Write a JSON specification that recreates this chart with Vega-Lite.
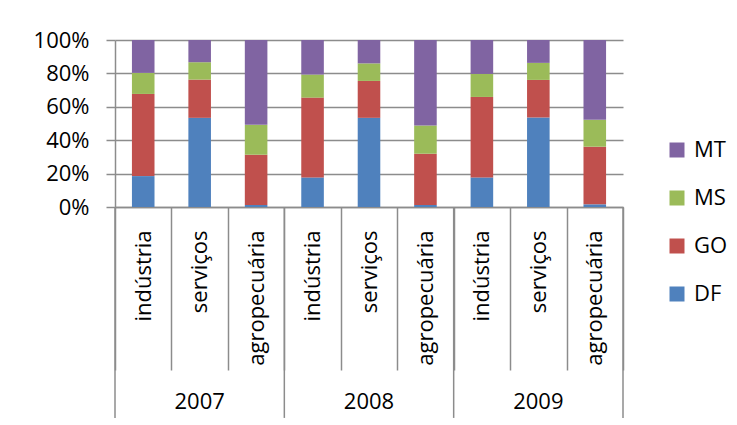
{
  "$schema": "https://vega.github.io/schema/vega-lite/v6.json",
  "width": 508,
  "height": 167,
  "autosize": "none",
  "padding": {"left": 115, "top": 40, "right": 114, "bottom": 218},
  "background": "white",
  "config": {
    "font": "Open Sans",
    "view": {"stroke": null},
    "axis": {"labelColor": "black", "domainColor": "#8c8c8c", "tickColor": "#8c8c8c", "gridColor": "#8c8c8c", "domainWidth": 1.5, "tickWidth": 1.5, "gridWidth": 1.5}
  },
  "datasets": {
    "shares": [
      {"cat": "2007|indústria", "year": "2007", "sector": "indústria", "estado": "DF", "valor": 18.5},
      {"cat": "2007|indústria", "year": "2007", "sector": "indústria", "estado": "GO", "valor": 49.2},
      {"cat": "2007|indústria", "year": "2007", "sector": "indústria", "estado": "MS", "valor": 12.6},
      {"cat": "2007|indústria", "year": "2007", "sector": "indústria", "estado": "MT", "valor": 19.7},
      {"cat": "2007|serviços", "year": "2007", "sector": "serviços", "estado": "DF", "valor": 53.4},
      {"cat": "2007|serviços", "year": "2007", "sector": "serviços", "estado": "GO", "valor": 22.9},
      {"cat": "2007|serviços", "year": "2007", "sector": "serviços", "estado": "MS", "valor": 10.4},
      {"cat": "2007|serviços", "year": "2007", "sector": "serviços", "estado": "MT", "valor": 13.3},
      {"cat": "2007|agropecuária", "year": "2007", "sector": "agropecuária", "estado": "DF", "valor": 1.2},
      {"cat": "2007|agropecuária", "year": "2007", "sector": "agropecuária", "estado": "GO", "valor": 30.1},
      {"cat": "2007|agropecuária", "year": "2007", "sector": "agropecuária", "estado": "MS", "valor": 17.9},
      {"cat": "2007|agropecuária", "year": "2007", "sector": "agropecuária", "estado": "MT", "valor": 50.8},
      {"cat": "2008|indústria", "year": "2008", "sector": "indústria", "estado": "DF", "valor": 17.7},
      {"cat": "2008|indústria", "year": "2008", "sector": "indústria", "estado": "GO", "valor": 47.8},
      {"cat": "2008|indústria", "year": "2008", "sector": "indústria", "estado": "MS", "valor": 13.8},
      {"cat": "2008|indústria", "year": "2008", "sector": "indústria", "estado": "MT", "valor": 20.7},
      {"cat": "2008|serviços", "year": "2008", "sector": "serviços", "estado": "DF", "valor": 53.4},
      {"cat": "2008|serviços", "year": "2008", "sector": "serviços", "estado": "GO", "valor": 22.1},
      {"cat": "2008|serviços", "year": "2008", "sector": "serviços", "estado": "MS", "valor": 10.5},
      {"cat": "2008|serviços", "year": "2008", "sector": "serviços", "estado": "MT", "valor": 14.0},
      {"cat": "2008|agropecuária", "year": "2008", "sector": "agropecuária", "estado": "DF", "valor": 1.2},
      {"cat": "2008|agropecuária", "year": "2008", "sector": "agropecuária", "estado": "GO", "valor": 30.7},
      {"cat": "2008|agropecuária", "year": "2008", "sector": "agropecuária", "estado": "MS", "valor": 16.9},
      {"cat": "2008|agropecuária", "year": "2008", "sector": "agropecuária", "estado": "MT", "valor": 51.2},
      {"cat": "2009|indústria", "year": "2009", "sector": "indústria", "estado": "DF", "valor": 17.7},
      {"cat": "2009|indústria", "year": "2009", "sector": "indústria", "estado": "GO", "valor": 48.2},
      {"cat": "2009|indústria", "year": "2009", "sector": "indústria", "estado": "MS", "valor": 13.8},
      {"cat": "2009|indústria", "year": "2009", "sector": "indústria", "estado": "MT", "valor": 20.3},
      {"cat": "2009|serviços", "year": "2009", "sector": "serviços", "estado": "DF", "valor": 53.6},
      {"cat": "2009|serviços", "year": "2009", "sector": "serviços", "estado": "GO", "valor": 22.5},
      {"cat": "2009|serviços", "year": "2009", "sector": "serviços", "estado": "MS", "valor": 10.2},
      {"cat": "2009|serviços", "year": "2009", "sector": "serviços", "estado": "MT", "valor": 13.7},
      {"cat": "2009|agropecuária", "year": "2009", "sector": "agropecuária", "estado": "DF", "valor": 1.6},
      {"cat": "2009|agropecuária", "year": "2009", "sector": "agropecuária", "estado": "GO", "valor": 34.5},
      {"cat": "2009|agropecuária", "year": "2009", "sector": "agropecuária", "estado": "MS", "valor": 16.1},
      {"cat": "2009|agropecuária", "year": "2009", "sector": "agropecuária", "estado": "MT", "valor": 47.8}
    ],
    "years": [
      {"cat": "2007|serviços", "year": "2007"},
      {"cat": "2008|serviços", "year": "2008"},
      {"cat": "2009|serviços", "year": "2009"}
    ],
    "yearStarts": [
      {"cat": "2007|indústria"},
      {"cat": "2008|indústria"},
      {"cat": "2009|indústria"}
    ],
    "yearEnd": [
      {"cat": "2009|agropecuária"}
    ]
  },
  "layer": [
    {
      "data": {"name": "shares"},
      "mark": {"type": "bar", "width": {"band": 0.4}},
      "encoding": {
        "x": {
          "field": "cat",
          "type": "nominal",
          "scale": {
            "domain": ["2007|indústria", "2007|serviços", "2007|agropecuária", "2008|indústria", "2008|serviços", "2008|agropecuária", "2009|indústria", "2009|serviços", "2009|agropecuária"],
            "paddingInner": 0,
            "paddingOuter": 0
          },
          "axis": {
            "title": null,
            "labelExpr": "split(datum.value, '|')[1]",
            "labelAngle": -90,
            "labelAlign": "right",
            "labelBaseline": "middle",
            "labelFontSize": 22,
            "labelPadding": -140,
            "tickBand": "extent",
            "tickSize": 163,
            "labelOverlap": false,
            "grid": false
          }
        },
        "y": {
          "field": "valor",
          "type": "quantitative",
          "stack": "normalize",
          "scale": {"domain": [0, 1], "nice": false},
          "axis": {
            "title": null,
            "values": [0, 0.2, 0.4, 0.6, 0.8, 1],
            "tickCount": 12,
            "format": ".0%",
            "grid": true,
            "tickSize": 9,
            "labelPadding": 17,
            "labelFontSize": 22,
            "labelOverlap": false
          }
        },
        "color": {
          "field": "estado",
          "type": "nominal",
          "scale": {"domain": ["DF", "GO", "MS", "MT"], "range": ["#4F81BD", "#C0504D", "#9BBB59", "#8064A2"]},
          "legend": {
            "title": null,
            "values": ["MT", "MS", "GO", "DF"],
            "orient": "none",
            "legendX": 551,
            "legendY": 99,
            "symbolType": "square",
            "symbolSize": 225,
            "symbolStrokeWidth": 0,
            "labelFontSize": 22,
            "labelOffset": 6,
            "rowPadding": 26
          }
        },
        "order": {"field": "estado", "sort": "ascending"}
      }
    },
    {
      "data": {"name": "yearStarts"},
      "mark": {"type": "rule", "color": "#8c8c8c", "strokeWidth": 1.5},
      "encoding": {
        "x": {"field": "cat", "type": "nominal", "bandPosition": 0},
        "y": {"datum": 0},
        "y2": {"datum": -1.263}
      }
    },
    {
      "data": {"name": "yearEnd"},
      "mark": {"type": "rule", "color": "#8c8c8c", "strokeWidth": 1.5},
      "encoding": {
        "x": {"field": "cat", "type": "nominal", "bandPosition": 1},
        "y": {"datum": 0},
        "y2": {"datum": -1.263}
      }
    },
    {
      "data": {"name": "years"},
      "mark": {"type": "text", "fontSize": 22, "baseline": "middle", "align": "center", "color": "black"},
      "encoding": {
        "x": {"field": "cat", "type": "nominal"},
        "y": {"datum": -1.168},
        "text": {"field": "year"}
      }
    }
  ]
}
